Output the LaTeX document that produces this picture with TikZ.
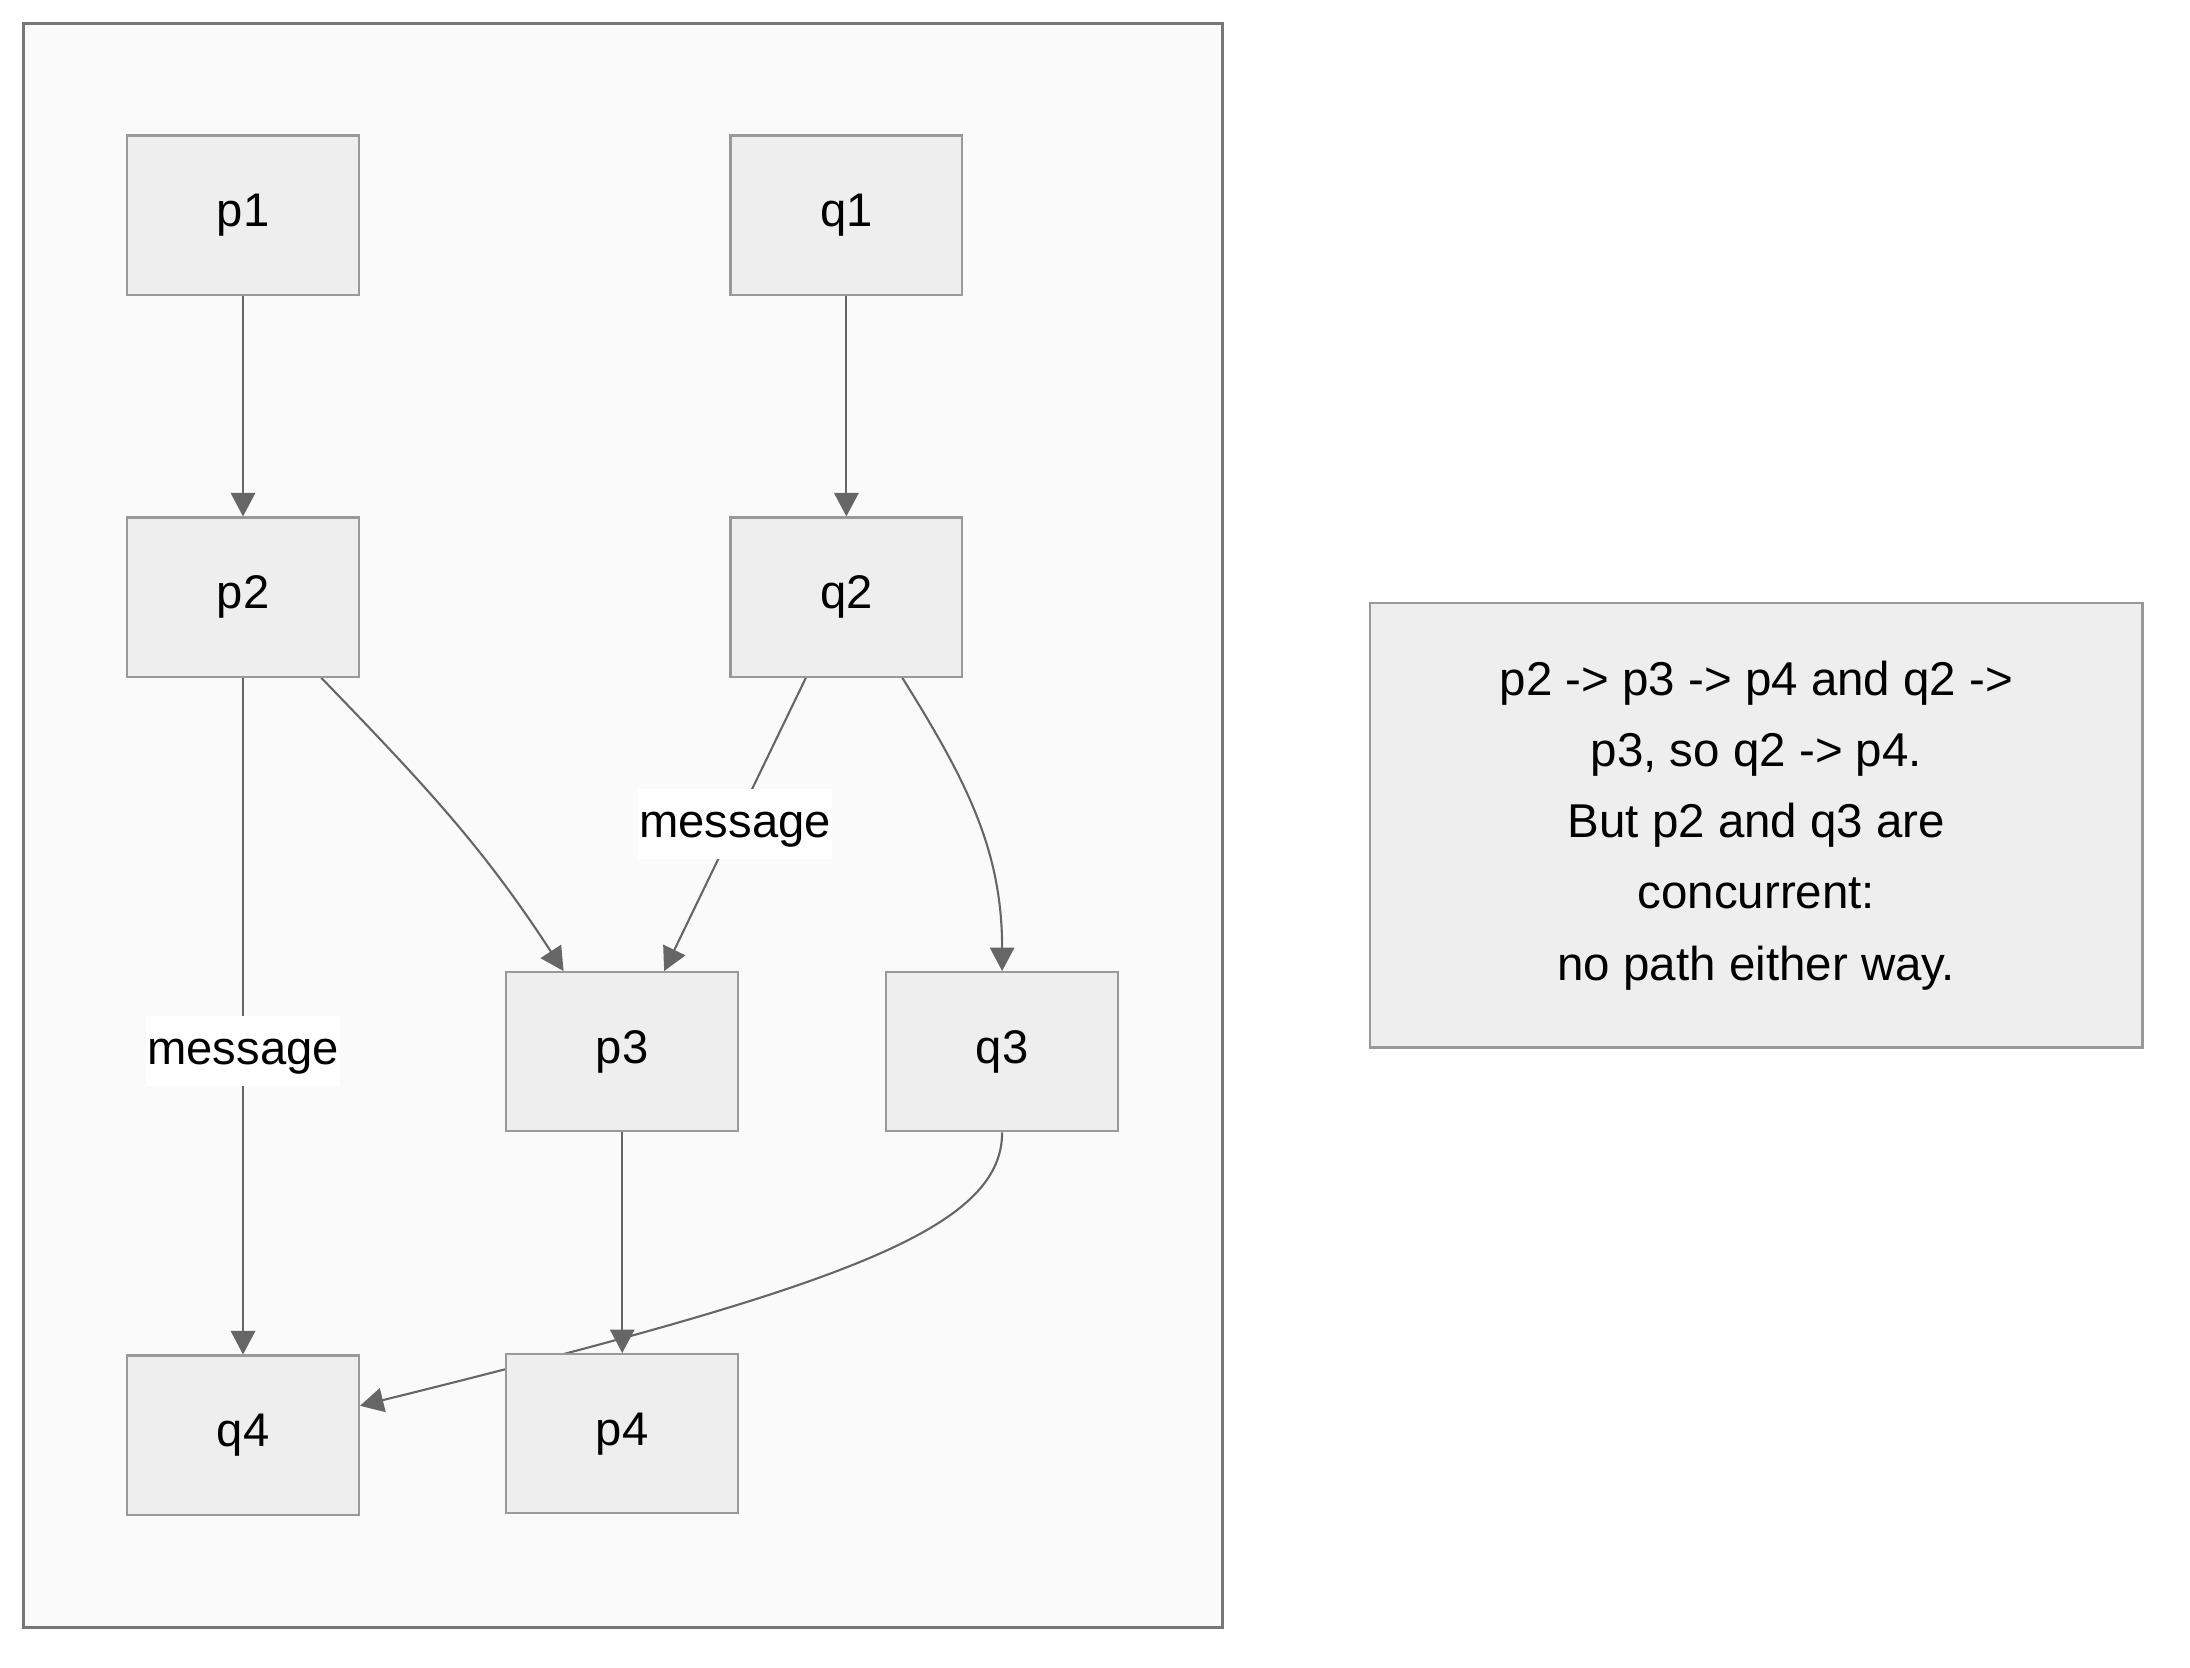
\documentclass[tikz,border=0pt]{standalone}
\usepackage{fontspec}
\setmainfont{Liberation Sans}
\usepackage{xcolor}
\usepackage{tikz}
\usetikzlibrary{positioning, arrows.meta}

\definecolor{boxfill}{HTML}{EEEEEE}
\definecolor{boxline}{HTML}{999999}
\definecolor{edgegray}{HTML}{666666}
\definecolor{clusterfill}{HTML}{FAFAFA}
\definecolor{clusterline}{HTML}{777777}

\pgfdeclarelayer{background}
\pgfdeclarelayer{edges}
\pgfsetlayers{background,edges,main}

\begin{document}
\begin{tikzpicture}[x=0.5pt, y=0.5pt,
            block/.style={rectangle, draw=boxline, fill=boxfill, line width=0.75pt,
                          minimum width=83pt, minimum height=57pt, inner sep=0pt,
                          font=\fontsize{16.9pt}{20pt}\selectfont},
            note/.style={rectangle, draw=boxline, fill=boxfill, line width=0.75pt,
                         minimum width=276.5pt, minimum height=159pt, align=center,
                         font=\fontsize{17pt}{25.5pt}\selectfont},
            msg/.style={fill=white, inner xsep=0.5pt, inner ysep=0pt, text height=17.3pt,
                        text depth=7.7pt, font=\fontsize{16.9pt}{20pt}\selectfont},
            flow/.style={draw=edgegray, line width=0.75pt, -{Triangle[length=8.4pt, width=8.7pt]}},
            node distance=79pt
        ]

            % page and cluster frame
            \begin{pgfonlayer}{background}
            \fill[white] (0,0) rectangle (1568,-1194);
            \draw[draw=clusterline, fill=clusterfill, line width=1pt] (17,-17) rectangle (875,-1165);
            \end{pgfonlayer}
            \useasboundingbox (0,0) rectangle (1568,-1194);

            % Process p
            \node[block] (p1) at (174,-154) {p1};
            \node[block, below=of p1] (p2) {p2};
            \node[block] (p3) at (445.5,-753) {p3};
            \node[block, below=of p3] (p4) {p4};

            % Process q
            \node[block] (q1) at (606,-154) {q1};
            \node[block, below=of q1] (q2) {q2};
            \node[block] (q3) at (717.5,-753) {q3};
            \node[block] (q4) at (174,-1027.5) {q4};

            % Note
            \node[note] (n) at (1257.5,-591) {p2 -> p3 -> p4 and q2 ->\\ p3, so q2 -> p4.\\ But p2 and q3 are\\ concurrent:\\ no path either way.};

            % Edges, kept under the boxes
            \begin{pgfonlayer}{edges}
            \draw[flow] (p1.south) -- (p2.north);
            \draw[flow] (q1.south) -- (q2.north);
            \draw[flow] (p2.south) -- node[msg, pos=0.552] {message} (q4.north);
            \draw[flow] ([xshift=28pt]p2.south) to[out=-46, in=123] ([xshift=-21pt]p3.north);
            \draw[flow] ([xshift=-14.5pt]q2.south) -- node[msg] {message} ([xshift=15pt]p3.north);
            \draw[flow] ([xshift=20pt]q2.south) to[out=-58, in=90] (q3.north);
            \draw[flow] (p3.south) -- (p4.north);
            \draw[flow] (q3.south) .. controls +(0,-70) and +(343,85) .. ([yshift=10.5pt]q4.east);
            \end{pgfonlayer}

        \end{tikzpicture}
\end{document}
